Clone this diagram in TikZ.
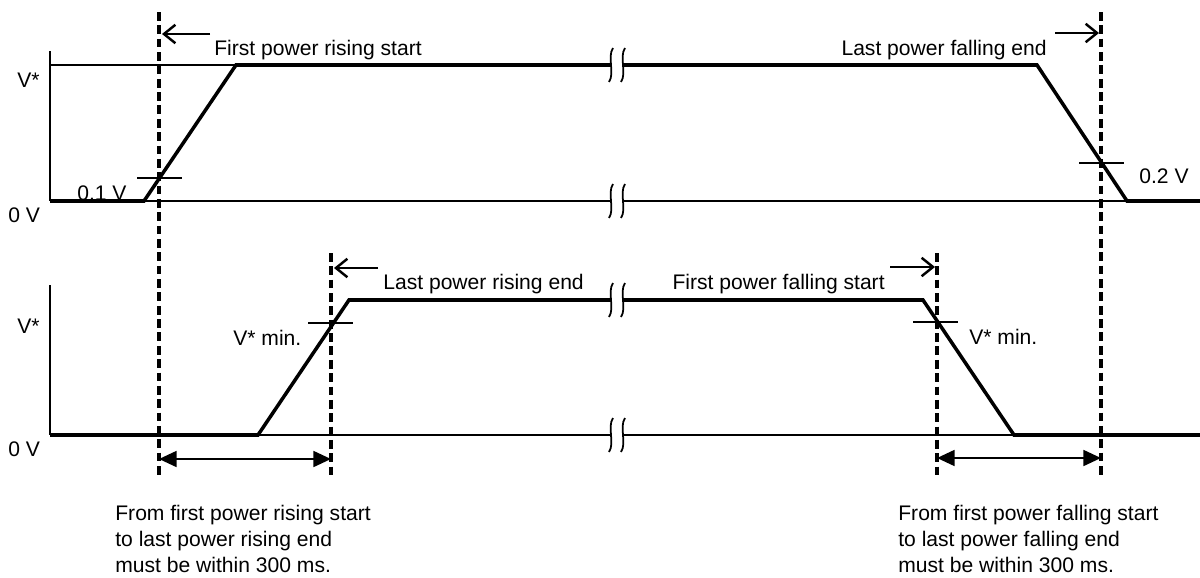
\documentclass[tikz,border=0pt]{standalone}
\usepackage{fontspec}
\setmainfont{Liberation Sans}
\usetikzlibrary{arrows.meta}

\begin{document}
\begin{tikzpicture}[x=0.02cm,y=-0.02cm,
   font=\fontsize{12}{14.7}\selectfont,
   sig/.style={line width=2pt,line join=miter},
   ax/.style={line width=1.7pt},
   fine/.style={line width=0.8pt},
   guide/.style={line width=1.8pt,dash pattern=on 5pt off 2.6pt},
   ptr/.style={line width=1.4pt,-{Straight Barb[length=6.5pt,width=10.5pt]}},
   span/.style={line width=1.3pt,{Triangle[length=10pt,width=9pt]}-{Triangle[length=10pt,width=9pt]}},
   lbl/.style={inner sep=0pt}]
  \useasboundingbox (0,0) rectangle (1200,578);
  % upper trace
  \coordinate (tax) at (50,51);
  \coordinate (tv)  at (50,65);
  \coordinate (t0)  at (50,201);
  \coordinate (t1)  at (144,201);
  \coordinate (t2)  at (236,65);
  \coordinate (t3)  at (1037,65);
  \coordinate (t4)  at (1127,201);
  \coordinate (t5)  at (1200,201);
  \draw[ax] (tax) -- (t0);
  \draw[fine] (tv) -- (t2) (t0) -- (t5);
  \draw[sig] (t0) -- (t1) -- (t2) -- (t3) -- (t4) -- (t5);
  % lower trace
  \coordinate (bax) at (50,285);
  \coordinate (b0)  at (50,435);
  \coordinate (b1)  at (258,435);
  \coordinate (b2)  at (349,300);
  \coordinate (b3)  at (923,300);
  \coordinate (b4)  at (1014,435);
  \coordinate (b5)  at (1200,435);
  \draw[ax] (bax) -- (b0);
  \draw[fine] (b0) -- (b5);
  \draw[sig] (b0) -- (b1) -- (b2) -- (b3) -- (b4) -- (b5);
  % breaks
  \foreach \yb in {65,201,300,435} {
    \fill[white] (613,\yb-17) .. controls (607,\yb-8) and (615,\yb+8) .. (609,\yb+17)
      -- (621,\yb+17) .. controls (627,\yb+8) and (619,\yb-8) .. (625,\yb-17) -- cycle;
    \draw[line width=1pt] (613,\yb-17) .. controls (607,\yb-8) and (615,\yb+8) .. (609,\yb+17);
    \draw[line width=1pt] (625,\yb-17) .. controls (619,\yb-8) and (627,\yb+8) .. (621,\yb+17);
  }
  % threshold ticks
  \coordinate (k1a) at (137,178);  \coordinate (k1b) at (182,178);
  \coordinate (k2a) at (1079,163); \coordinate (k2b) at (1124,163);
  \coordinate (k3a) at (308,323);  \coordinate (k3b) at (353,323);
  \coordinate (k4a) at (913,322);  \coordinate (k4b) at (958,322);
  \draw[fine] (k1a) -- (k1b) (k2a) -- (k2b) (k3a) -- (k3b) (k4a) -- (k4b);
  % guides
  \coordinate (g1top) at (159,12);  \coordinate (g1bot) at (159,478);
  \coordinate (g2top) at (331,253); \coordinate (g2bot) at (331,478);
  \coordinate (g3top) at (937,253); \coordinate (g3bot) at (937,478);
  \coordinate (g4top) at (1101,12); \coordinate (g4bot) at (1101,478);
  \draw[guide] (g1top) -- (g1bot);
  \draw[guide] (g2top) -- (g2bot);
  \draw[guide] (g3top) -- (g3bot);
  \draw[guide] (g4top) -- (g4bot);
  % pointers
  \coordinate (p1) at (210,34);  \coordinate (p1e) at (162,34);
  \coordinate (p2) at (1055,33); \coordinate (p2e) at (1099,33);
  \coordinate (p3) at (378,268); \coordinate (p3e) at (334,268);
  \coordinate (p4) at (890,267); \coordinate (p4e) at (935,267);
  \draw[ptr] (p1) -- (p1e);
  \draw[ptr] (p2) -- (p2e);
  \draw[ptr] (p3) -- (p3e);
  \draw[ptr] (p4) -- (p4e);
  % spans
  \coordinate (s1a) at (159,459); \coordinate (s1b) at (331,459);
  \coordinate (s2a) at (937,458); \coordinate (s2b) at (1101,458);
  \draw[span] (s1a) -- (s1b);
  \draw[span] (s2a) -- (s2b);
  % labels
  \node[lbl,anchor=base west] (vt)   at (17,87)    {V*};
  \node[lbl,anchor=base west] (zt)   at (8,222)    {0 V};
  \node[lbl,anchor=base west] (vb)   at (17,333)   {V*};
  \node[lbl,anchor=base west] (zb)   at (8,456)    {0 V};
  \node[lbl,anchor=base west] (lo1)  at (77,200)   {0.1 V};
  \node[lbl,anchor=base west] (lo2)  at (1139,183) {0.2 V};
  \node[lbl,anchor=base west] (mn1)  at (233,345)  {V* min.};
  \node[lbl,anchor=base west] (mn2)  at (969,344)  {V* min.};
  \node[lbl,anchor=base west] (frs)  at (214,55)   {First power rising start};
  \node[lbl,anchor=base east] (lfe)  at (1047,55)  {Last power falling end};
  \node[lbl,anchor=base west] (lre)  at (383,289)  {Last power rising end};
  \node[lbl,anchor=base east] (ffs)  at (885,289)  {First power falling start};
  \node[lbl,anchor=base west,align=left] (nrise) at (115,572)
    {From first power rising start\\to last power rising end\\must be within 300 ms.};
  \node[lbl,anchor=base west,align=left] (nfall) at (898,572)
    {From first power falling start\\to last power falling end\\must be within 300 ms.};
\end{tikzpicture}
\end{document}
